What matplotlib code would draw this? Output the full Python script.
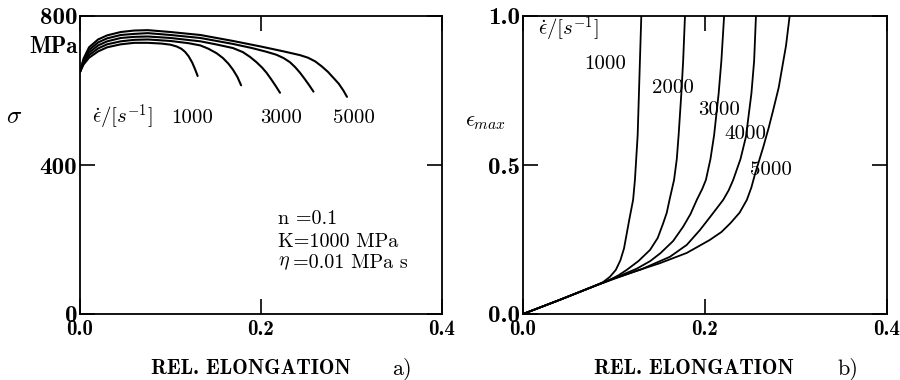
import numpy as np
import matplotlib
matplotlib.use('Agg')
import matplotlib.pyplot as plt

plt.rcParams['font.family'] = ['cmb10', 'DejaVu Serif']
plt.rcParams['mathtext.fontset'] = 'cm'
plt.rcParams['axes.unicode_minus'] = False

#%% data
rates = [1000, 2000, 3000, 4000, 5000]

# a) stress [MPa] vs rel. elongation
x_s1000 = [0, 0.004, 0.01, 0.02, 0.03, 0.045, 0.06, 0.075, 0.09, 0.100, 0.107, 0.112, 0.116, 0.120, 0.124, 0.127, 0.130]
s_1000 = [650, 670, 688, 705, 716, 724, 728, 728, 726, 723, 718, 712, 704, 692, 675, 658, 639]
x_s2000 = [0, 0.004, 0.01, 0.02, 0.03, 0.045, 0.06, 0.075, 0.10, 0.12, 0.133, 0.142, 0.151, 0.158, 0.164, 0.169, 0.174, 0.178]
s_2000 = [650, 674, 695, 713, 724, 732, 736, 737, 733, 727, 721, 712, 700, 687, 672, 656, 636, 614]
x_s3000 = [0, 0.004, 0.01, 0.02, 0.03, 0.045, 0.06, 0.075, 0.10, 0.133, 0.15, 0.169, 0.180, 0.188, 0.195, 0.201, 0.206, 0.211, 0.216, 0.221]
s_3000 = [650, 678, 702, 721, 732, 741, 744, 745, 741, 732, 724, 714, 703, 690, 676, 662, 648, 631, 613, 594]
x_s4000 = [0, 0.004, 0.01, 0.02, 0.03, 0.045, 0.06, 0.075, 0.10, 0.133, 0.169, 0.19, 0.206, 0.217, 0.225, 0.232, 0.238, 0.243, 0.248, 0.253, 0.258]
s_4000 = [650, 682, 709, 729, 740, 749, 752, 754, 749, 741, 725, 714, 704, 696, 687, 676, 662, 648, 632, 615, 597]
x_s5000 = [0, 0.004, 0.01, 0.02, 0.03, 0.045, 0.06, 0.075, 0.10, 0.133, 0.169, 0.20, 0.225, 0.243, 0.252, 0.260, 0.267, 0.274, 0.280, 0.286, 0.291, 0.295]
s_5000 = [650, 686, 716, 737, 748, 757, 761, 762, 757, 749, 733, 718, 705, 695, 688, 678, 665, 650, 634, 618, 600, 583]

# b) maximum strain vs rel. elongation
x_e1000 = [0, 0.04, 0.077, 0.088, 0.0956, 0.102, 0.107, 0.111, 0.114, 0.117, 0.121, 0.123, 0.124, 0.126, 0.127, 0.1285, 0.130]
e_1000 = [0, 0.047, 0.092, 0.107, 0.125, 0.148, 0.18, 0.22, 0.27, 0.32, 0.383, 0.45, 0.5, 0.6, 0.7, 0.85, 1.0]
x_e2000 = [0, 0.04, 0.077, 0.095, 0.105, 0.114, 0.127, 0.1396, 0.148, 0.154, 0.158, 0.161, 0.166, 0.169, 0.171, 0.174, 0.176, 0.178]
e_2000 = [0, 0.047, 0.092, 0.114, 0.13, 0.148, 0.178, 0.215, 0.255, 0.304, 0.34, 0.383, 0.45, 0.52, 0.6, 0.74, 0.85, 1.0]
x_e3000 = [0, 0.04, 0.077, 0.10, 0.125, 0.14, 0.151, 0.165, 0.176, 0.184, 0.191, 0.197, 0.201, 0.206, 0.210, 0.215, 0.218, 0.221]
e_3000 = [0, 0.047, 0.092, 0.12, 0.152, 0.178, 0.204, 0.245, 0.293, 0.335, 0.383, 0.42, 0.45, 0.52, 0.6, 0.74, 0.85, 1.0]
x_e4000 = [0, 0.04, 0.077, 0.10, 0.13, 0.1615, 0.18, 0.1945, 0.208, 0.220, 0.226, 0.231, 0.239, 0.245, 0.251, 0.254, 0.256]
e_4000 = [0, 0.047, 0.092, 0.119, 0.15, 0.192, 0.232, 0.282, 0.335, 0.383, 0.415, 0.45, 0.52, 0.595, 0.74, 0.85, 1.0]
x_e5000 = [0, 0.04, 0.077, 0.10, 0.125, 0.150, 0.180, 0.205, 0.218, 0.228, 0.238, 0.246, 0.251, 0.255, 0.260, 0.264, 0.270, 0.275, 0.281, 0.285, 0.289, 0.293]
e_5000 = [0, 0.047, 0.092, 0.118, 0.145, 0.17, 0.205, 0.248, 0.275, 0.305, 0.34, 0.383, 0.425, 0.47, 0.52, 0.56, 0.625, 0.685, 0.76, 0.83, 0.9, 1.0]

stress = [(x_s1000, s_1000), (x_s2000, s_2000), (x_s3000, s_3000), (x_s4000, s_4000), (x_s5000, s_5000)]
strain = [(x_e1000, e_1000), (x_e2000, e_2000), (x_e3000, e_3000), (x_e4000, e_4000), (x_e5000, e_5000)]

#%%
fig = plt.figure(figsize=(9, 3.8), dpi=100)
ax1 = fig.add_axes([80/900, 66/380, 362/900, 298/380])
ax2 = fig.add_axes([523/900, 66/380, 364/900, 298/380])

for xs, ys in stress:
    ax1.plot(xs, ys, color='k', lw=1.5, solid_capstyle='round', solid_joinstyle='round')
for xs, ys in strain:
    ax2.plot(xs, ys, color='k', lw=1.3, solid_capstyle='round', solid_joinstyle='round')

ax1.set_xlim(0, 0.4)
ax1.set_ylim(0, 800)
ax1.set_xticks([0, 0.2, 0.4])
ax1.set_xticklabels(['0.0', '0.2', '0.4'])
ax1.set_yticks([0, 400, 800])
ax1.set_yticklabels(['0', '400', '800'])

ax2.set_xlim(0, 0.4)
ax2.set_ylim(0, 1.0)
ax2.set_xticks([0, 0.2, 0.4])
ax2.set_xticklabels(['0.0', '0.2', '0.4'])
ax2.set_yticks([0, 0.5, 1.0])
ax2.set_yticklabels(['0.0', '0.5', '1.0'])

for a in (ax1, ax2):
    a.tick_params(direction='in', length=11, width=1.2, top=True, right=True)
    a.tick_params(axis='x', pad=4, labelsize=15)
    a.tick_params(axis='y', pad=2, labelsize=18)
    for sp in a.spines.values():
        sp.set_linewidth(1.3)

rm = 'cmr10'
# labels panel a
ax1.text(0.0133, 527, r'$\dot{\epsilon}/[s^{-1}]$', fontsize=15, ha='left', va='center')
for r, xp in zip([1000, 3000, 5000], [0.124, 0.222, 0.303]):
    ax1.text(xp, 527, str(r), fontsize=15, family=rm, ha='center', va='center')
ax1.text(-0.003, 717, 'MPa', fontsize=16.5, ha='right', va='center')
ax1.text(0.219, 255, 'n =0.1', fontsize=14.5, family=rm, ha='left', va='center')
ax1.text(0.219, 193, 'K=1000 MPa', fontsize=14.5, family=rm, ha='left', va='center')
ax1.text(0.219, 137, r'$\eta$', fontsize=14.5, ha='left', va='center')
ax1.text(0.2355, 137, '=0.01 MPa s', fontsize=14.5, family=rm, ha='left', va='center')
fig.text(14/900, 1 - 117/380, r'$\sigma$', fontsize=18, ha='center', va='center')

# labels panel b
ax2.text(0.0165, 0.955, r'$\dot{\epsilon}/[s^{-1}]$', fontsize=15, ha='left', va='center')
lab_x = [0.090, 0.165, 0.215, 0.244, 0.2725]
lab_y = [0.839, 0.758, 0.685, 0.604, 0.483]
for r, xp, yp in zip(rates, lab_x, lab_y):
    ax2.text(xp, yp, str(r), fontsize=15, family=rm, ha='center', va='center')
fig.text(486/900, 1 - 122/380, r'$\epsilon_{max}$', fontsize=16, ha='center', va='center')

fig.text(251/900, 1 - 369/380, 'REL. ELONGATION', fontsize=15, ha='center', va='center')
fig.text(402/900, 1 - 369/380, 'a)', fontsize=16, family=rm, ha='center', va='center')
fig.text(694/900, 1 - 369/380, 'REL. ELONGATION', fontsize=15, ha='center', va='center')
fig.text(848/900, 1 - 369/380, 'b)', fontsize=16, family=rm, ha='center', va='center')

fig.savefig('out.png', dpi=100)
